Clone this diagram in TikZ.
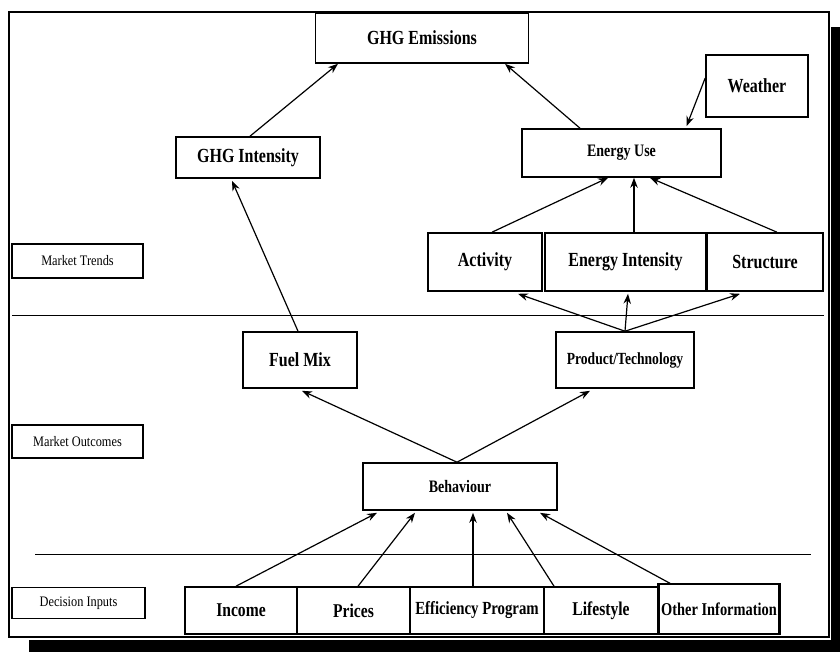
\documentclass[tikz,border=0pt]{standalone}
\usepackage{fontspec}
\setmainfont{Liberation Serif}
\usetikzlibrary{arrows.meta}
\newcommand\lb[2]{\scalebox{0.8}[1]{\fontsize{#1}{#1}\selectfont\bfseries #2}}
\newcommand\lbs[2]{\scalebox{0.85}[1]{\fontsize{#1}{#1}\selectfont #2}}
\begin{document}
\begin{tikzpicture}[x=1pt,y=-1pt,
  box/.style={draw,line width=1.6pt,inner sep=0pt,align=center,anchor=center},
  conn/.style={line width=1.2pt,-{Stealth[length=10pt,width=7.5pt]}},
  sep/.style={line width=0.8pt}]
\useasboundingbox (0,0) rectangle (840,652);
% frame and shadow
\fill[black] (831,27) rectangle (840,652);
\fill[black] (29,640) rectangle (840,652);
\draw[line width=2.5pt] (9,12) rectangle (829,637);
% separators
\draw[sep] (12,315) -- (824,315);
\draw[sep] (35,554) -- (811,554);
% nodes
\node[box,minimum width=213pt,minimum height=50pt] (ghgE) at (422,38) {\lb{20}{GHG Emissions}};
\node[box,minimum width=102pt,minimum height=62pt] (weather) at (757,86) {\lb{20}{Weather}};
\node[box,minimum width=144pt,minimum height=41pt] (ghgI) at (248,157.5) {\lb{20}{GHG Intensity}};
\node[box,minimum width=199pt,minimum height=48pt] (euse) at (621.5,153) {\lb{17.5}{Energy Use}};
\node[box,minimum width=131pt,minimum height=34pt] (mtrends) at (77.5,261) {\lbs{14.5}{Market Trends}};
\node[box,minimum width=114pt,minimum height=58pt] (activity) at (485,262) {\lb{20}{Activity}};
\node[box,minimum width=161pt,minimum height=58pt] (eint) at (625.5,262) {\lb{20}{Energy Intensity}};
\node[box,minimum width=116pt,minimum height=58pt] (structure) at (765,262) {\lb{20}{Structure}};
\node[box,minimum width=114pt,minimum height=56pt] (fuel) at (300,360) {\lb{20}{Fuel Mix}};
\node[box,minimum width=138pt,minimum height=56pt] (prodtech) at (625,360) {\lb{17}{Product/Technology}};
\node[box,minimum width=131pt,minimum height=33pt] (mout) at (77.5,441.5) {\lbs{14.5}{Market Outcomes}};
\node[box,minimum width=194pt,minimum height=47pt] (behav) at (460,486.5) {\lb{17.5}{Behaviour}};
\node[box,minimum width=133pt,minimum height=31pt] (dinputs) at (78.5,603) {\lbs{14.5}{Decision Inputs}};
\node[box,minimum width=112pt,minimum height=47pt] (income) at (241,610.5) {\lb{19.5}{Income}};
\node[box,minimum width=113pt,minimum height=47pt] (prices) at (353.5,610.5) {\lb{19.5}{Prices}};
\node[box,minimum width=134pt,minimum height=47pt] (effprog) at (477,610.5) {\lb{18.5}{Efficiency Program}};
\node[box,minimum width=114pt,minimum height=47pt] (lifestyle) at (601,610.5) {\lb{19.5}{Lifestyle}};
\node[box,line width=2.2pt,minimum width=121pt,minimum height=50pt] (other) at (719,609) {\lb{18}{Other Information}};
% connectors
\draw[conn] ([xshift=2pt]ghgI.north) -- ([xshift=-84pt]ghgE.south);
\draw[conn] ([xshift=-41.5pt]euse.north) -- ([xshift=83pt]ghgE.south);
\draw[conn] ([yshift=8pt]weather.west) -- ([xshift=65pt,yshift=2pt]euse.north);
\draw[conn] ([xshift=7pt]activity.north) -- ([xshift=-13.5pt]euse.south);
\draw[conn] ([xshift=8.5pt]eint.north) -- ([xshift=12.5pt]euse.south);
\draw[conn] ([xshift=12pt]structure.north) -- ([xshift=28.5pt]euse.south);
\draw[conn] (prodtech.north) -- ([xshift=33pt,yshift=-2pt]activity.south);
\draw[conn] (prodtech.north) -- ([xshift=2.5pt,yshift=-2pt]eint.south);
\draw[conn] (prodtech.north) -- ([xshift=-25pt,yshift=-2pt]structure.south);
\draw[conn] ([xshift=-2pt]fuel.north) -- ([xshift=-16pt,yshift=-2pt]ghgI.south);
\draw[conn] ([xshift=-3pt]behav.north) -- ([xshift=2pt,yshift=-2pt]fuel.south);
\draw[conn] ([xshift=-3pt]behav.north) -- ([xshift=-35pt,yshift=-2pt]prodtech.south);
\draw[conn] ([xshift=-5pt]income.north) -- ([xshift=-83pt,yshift=-2pt]behav.south);
\draw[conn] ([xshift=4.5pt]prices.north) -- ([xshift=-45pt,yshift=-2pt]behav.south);
\draw[conn] ([xshift=-4pt]effprog.north) -- ([xshift=13pt,yshift=-2pt]behav.south);
\draw[conn] ([xshift=-47pt]lifestyle.north) -- ([xshift=47pt,yshift=-2pt]behav.south);
\draw[conn] ([xshift=-47pt,yshift=-1.5pt]other.north) -- ([xshift=80pt,yshift=-2pt]behav.south);
\end{tikzpicture}
\end{document}
